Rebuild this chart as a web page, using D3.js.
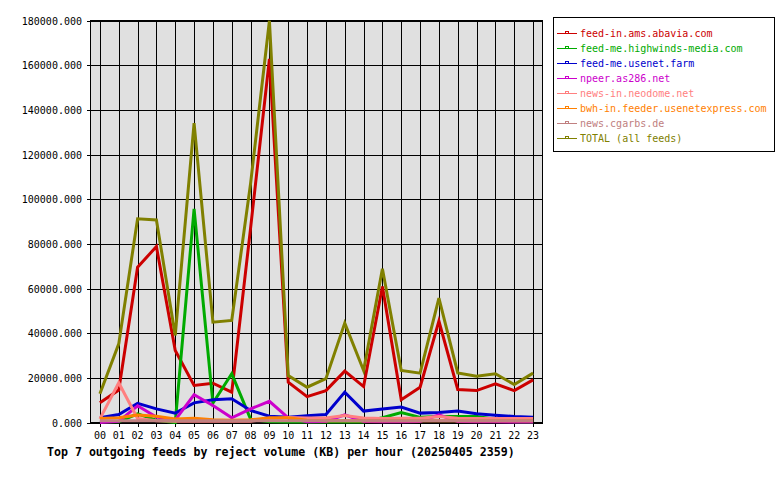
<!DOCTYPE html>
<html><head><meta charset="utf-8">
<script src="https://cdn.jsdelivr.net/npm/d3@7/dist/d3.min.js"></script>
<style>body{margin:0;background:#fff}svg{display:block}text{font-family:"DejaVu Sans Mono",monospace}</style>
</head><body><svg id="c" width="780" height="480"></svg>
<script>
const hours = ["00","01","02","03","04","05","06","07","08","09","10","11","12","13","14","15","16","17","18","19","20","21","22","23"];
const yTicks = [0,20000,40000,60000,80000,100000,120000,140000,160000,180000];
const seriesNames = ["feed-in.ams.abavia.com","feed-me.highwinds-media.com","feed-me.usenet.farm","npeer.as286.net","news-in.neodome.net","bwh-in.feeder.usenetexpress.com","news.cgarbs.de","TOTAL (all feeds)"];
const seriesColors = ["#cc0000","#00aa00","#0000cc","#cc00cc","#ff8080","#ff8000","#c08080","#808000"];
const abavia   = [8800,14500,69500,78800,32200,16600,17600,13600,87000,162800,18000,11600,14300,23000,16100,60900,10200,15800,45400,14800,14300,17300,14300,19100];
const highwinds= [300,300,3900,1000,0,95700,8700,21800,1500,300,200,200,200,200,200,2100,4500,2300,2700,2700,2700,1500,300,200];
const usenetfarm=[2100,3600,8600,6100,4200,8800,10200,10600,5400,2800,2300,3000,3600,13600,5100,6000,6900,4200,4500,5100,3900,3300,2700,2300];
const as286    = [0,500,7500,2400,1200,12400,7600,2100,6100,9500,2100,300,500,3400,500,300,300,500,3400,500,300,300,200,200];
const neodome  = [1600,17800,1800,800,600,600,600,600,600,1500,2200,2000,2000,3100,2000,1800,1900,1900,2700,1900,1800,1800,1800,1800];
const usenetexpress=[1800,2100,3400,2800,1600,1900,1200,1000,1200,2100,2100,1000,800,800,800,800,800,800,800,800,800,800,800,800];
const cgarbs   = [800,800,800,800,800,800,800,800,800,800,800,800,800,800,800,800,800,800,800,800,800,800,800,800];
const total    = [12900,35200,91200,90700,39000,134000,44900,45700,107000,179900,21000,15800,19600,44500,23300,68800,23300,22100,55700,22200,20700,21800,17000,22100];
const seriesValues = [abavia,highwinds,usenetfarm,as286,neodome,usenetexpress,cgarbs,total];
const title = "Top 7 outgoing feeds by reject volume (KB) per hour (20250405 2359)";

const svg = d3.select("#c");
const L=90.5,R=542.5,T=20.5,B=422.5;
const x = d3.scaleBand().domain(hours).range([L,R]).padding(0);
const cx = h => x(h)+x.bandwidth()/2;
const y = d3.scaleLinear().domain([0,180000]).range([B,T]);

svg.append("rect").attr("x",L).attr("y",T).attr("width",R-L).attr("height",B-T).attr("fill","#e0e0e0");
const g = svg.append("g").attr("shape-rendering","crispEdges");
g.selectAll(".vg").data(hours).join("line").attr("x1",d=>Math.round(cx(d))+0.5).attr("x2",d=>Math.round(cx(d))+0.5).attr("y1",T).attr("y2",B+4).attr("stroke","#000");
g.selectAll(".hg").data(yTicks).join("line").attr("x1",L-4).attr("x2",R).attr("y1",d=>Math.round(y(d))+0.5).attr("y2",d=>Math.round(y(d))+0.5).attr("stroke","#000");
g.append("rect").attr("x",L).attr("y",T).attr("width",R-L).attr("height",B-T).attr("fill","none").attr("stroke","#000");

svg.selectAll(".yl").data(yTicks).join("text").attr("x",82).attr("y",d=>y(d)+4).attr("text-anchor","end").attr("font-size","10px").text(d=>d3.format(".3f")(d));
svg.selectAll(".xl").data(hours).join("text").attr("x",d=>cx(d)).attr("y",439).attr("text-anchor","middle").attr("font-size","10px").text(d=>d);

const line = d3.line().x((d,i)=>cx(hours[i])).y(d=>y(d));
seriesValues.forEach((vals,k)=>{
  svg.append("path").datum(vals).attr("d",line).attr("fill","none").attr("stroke",seriesColors[k]).attr("stroke-width",3).attr("stroke-linejoin","miter");
});

svg.append("text").attr("x",47).attr("y",456).attr("font-size","11.6px").attr("font-weight","bold").text(title);

const lg = svg.append("g").attr("shape-rendering","crispEdges");
lg.append("rect").attr("x",553.5).attr("y",17.5).attr("width",221).attr("height",134).attr("fill","#fff").attr("stroke","#000");
seriesNames.forEach((n,k)=>{
  const yy = 33 + k*15;
  lg.append("line").attr("x1",557).attr("x2",577).attr("y1",yy+0.5).attr("y2",yy+0.5).attr("stroke",seriesColors[k]);
  lg.append("rect").attr("x",565.5).attr("y",yy-1.5).attr("width",3).attr("height",2).attr("fill","#fff").attr("stroke",seriesColors[k]);
  svg.append("text").attr("x",580).attr("y",yy+4).attr("font-size","10px").attr("fill",seriesColors[k]).text(n);
});
</script></body></html>
